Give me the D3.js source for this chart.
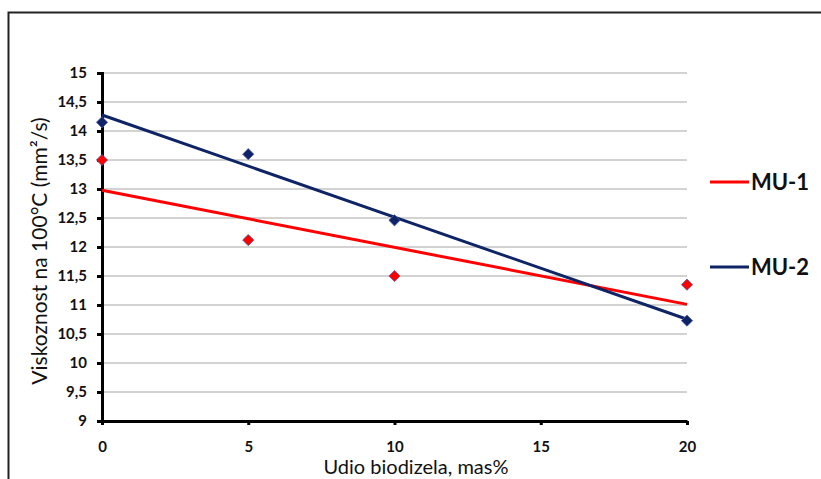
<!DOCTYPE html>
<html>
<head>
<meta charset="utf-8">
<script src="https://cdn.jsdelivr.net/npm/d3@7"></script>
<style>
  body { margin: 0; background: #fff; }
  svg { display: block; font-family: Lato, "Open Sans", sans-serif; }
</style>
</head>
<body>
<svg id="chart"></svg>
<script>
let xValues = [0, 5, 10, 20];
let mu1 = [13.5, 12.12, 11.5, 11.35];
let mu2 = [14.15, 13.6, 12.46, 10.73];
let xTicks = [0, 5, 10, 15, 20];
let yTicks = [9, 9.5, 10, 10.5, 11, 11.5, 12, 12.5, 13, 13.5, 14, 14.5, 15];
let seriesNames = ["MU-1", "MU-2"];
let seriesColors = ["#ff0000", "#0f2466"];

function fit(xs, ys) {
    // least squares trend line, as in the original chart
    let mx = d3.mean(xs), my = d3.mean(ys);
    let sxy = d3.sum(xs, (x, i) => (x - mx) * (ys[i] - my));
    let sxx = d3.sum(xs, x => (x - mx) * (x - mx));
    let b = sxy / sxx;
    return x => my + b * (x - mx);
}

function createChart() {
    let w = 821, h = 479;
    let svg = d3.select("#chart").attr("width", w).attr("height", h);

    // outer frame
    svg.append("path")
        .attr("d", "M8.5,479 V12.5 H821")
        .attr("fill", "none")
        .attr("stroke", "#222")
        .attr("stroke-width", 2);

    let x = d3.scaleLinear().domain([0, 20]).range([102, 687]);
    let y = d3.scaleLinear().domain([9, 15]).range([421, 73]);

    // gridlines
    svg.append("g").selectAll("line")
        .data(yTicks.slice(1))
        .enter().append("line")
        .attr("x1", x(0)).attr("x2", x(20))
        .attr("y1", d => y(d)).attr("y2", d => y(d))
        .attr("stroke", "#a6a6a6").attr("stroke-width", 1);

    // y axis
    let yAxis = svg.append("g")
        .attr("transform", `translate(${x(0)},0)`)
        .call(d3.axisLeft(y).tickValues(yTicks).tickSize(5).tickPadding(10)
            .tickFormat(d => String(d).replace(".", ",")));
    yAxis.select(".domain").attr("stroke", "#000").attr("stroke-width", 3);
    yAxis.selectAll(".tick line").attr("stroke", "#000").attr("stroke-width", 3);
    yAxis.selectAll("text").attr("font-size", 15).attr("font-weight", "bold")
        .attr("fill", "#111").style("font-family", "Lato, sans-serif");

    // x axis
    let xAxis = svg.append("g")
        .attr("transform", `translate(0,${y(9)})`)
        .call(d3.axisBottom(x).tickValues(xTicks).tickSize(4).tickPadding(16).tickSizeOuter(0));
    xAxis.select(".domain").attr("stroke", "#000").attr("stroke-width", 3);
    xAxis.selectAll(".tick line").attr("stroke", "#000").attr("stroke-width", 3);
    xAxis.selectAll("text").attr("font-size", 15).attr("font-weight", "bold")
        .attr("fill", "#111").style("font-family", "Lato, sans-serif");

    // axis titles
    svg.append("text")
        .attr("x", 416).attr("y", 474)
        .attr("text-anchor", "middle")
        .attr("font-size", 20)
        .attr("fill", "#111")
        .text("Udio biodizela, mas%");

    svg.append("text")
        .attr("transform", "translate(47,251) rotate(-90)")
        .attr("text-anchor", "middle")
        .attr("font-size", 21)
        .attr("fill", "#111")
        .text("Viskoznost na 100°C (mm²/s)");

    let data = [mu1, mu2];
    let symbol = d3.symbol().type(d3.symbolDiamond2).size(80);

    data.forEach((vals, s) => {
        let f = fit(xValues, vals);
        svg.append("line")
            .attr("x1", x(0)).attr("y1", y(f(0)))
            .attr("x2", x(20)).attr("y2", y(f(20)))
            .attr("stroke", seriesColors[s])
            .attr("stroke-width", 3);
    });

    data.forEach((vals, s) => {
        svg.append("g").selectAll("path")
            .data(vals)
            .enter().append("path")
            .attr("d", symbol)
            .attr("transform", (d, i) => `translate(${x(xValues[i])},${y(d)})`)
            .attr("fill", seriesColors[s])
            .attr("stroke", "#4a5aa8")
            .attr("stroke-width", 0.8);
    });

    // legend
    let legend = svg.append("g");
    seriesNames.forEach((name, i) => {
        let ly = 182 + i * 85;
        legend.append("line")
            .attr("x1", 710).attr("x2", 749)
            .attr("y1", ly).attr("y2", ly)
            .attr("stroke", seriesColors[i]).attr("stroke-width", 3);
        legend.append("text")
            .attr("x", 751).attr("y", ly + 8)
            .attr("font-size", 22).attr("font-weight", "bold")
            .attr("fill", "#111")
            .text(name);
    });
}

window.onload = function() {
    createChart();
}
</script>
</body>
</html>
